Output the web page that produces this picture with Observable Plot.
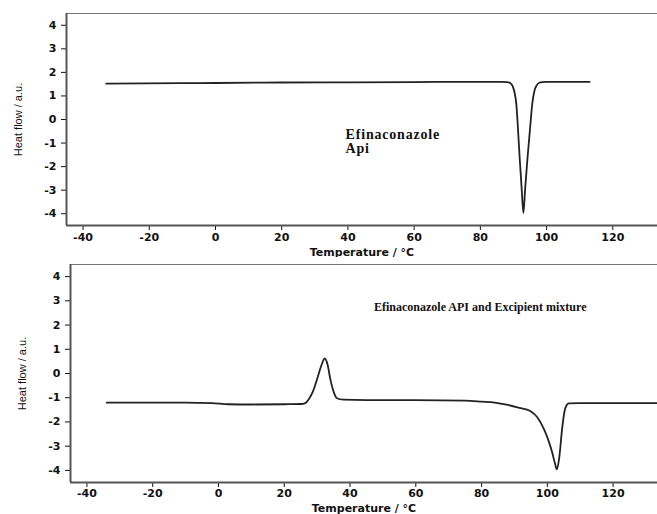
<!DOCTYPE html>
<html>
<head>
<meta charset="utf-8">
<script src="https://cdn.jsdelivr.net/npm/d3@7"></script>
<script src="https://cdn.jsdelivr.net/npm/@observablehq/plot@0.6"></script>
<style>
  html, body { margin: 0; padding: 0; background: #fff; }
  #charts svg { display: block; }
  g[aria-label="y-axis label"] text { font-family: "Liberation Sans Narrow", "Liberation Sans", sans-serif; font-weight: normal; font-size: 11px; fill: #111; }
  g[aria-label="x-axis label"] text { font-family: "DejaVu Sans", sans-serif; font-weight: bold; font-size: 11px; fill: #111; }
</style>
</head>
<body>
<div id="charts"></div>
<script>
// Axis setup
const xDomain = [-45, 133.5];
const yDomain = [-4.5, 4.5];
const xTicks = [-40, -20, 0, 20, 40, 60, 80, 100, 120];
const yTicks = [-4, -3, -2, -1, 0, 1, 2, 3, 4];
const xLabel = "Temperature / °C";
const yLabel = "Heat flow / a.u.";

// Top panel: Efinaconazole API
const apiTemp = [-33, -10, 0, 20, 40, 60, 80, 86, 88, 89, 89.8, 90.4, 90.9, 91.4, 91.9, 92.5, 93.0, 93.5, 94.2, 95.0, 95.7, 96.3, 97.0, 97.8, 98.8, 100, 113];
const apiFlow = [1.52, 1.54, 1.55, 1.57, 1.58, 1.59, 1.6, 1.6, 1.59, 1.55, 1.4, 1.1, 0.6, -0.5, -1.7, -3.0, -3.97, -3.0, -1.7, -0.4, 0.7, 1.2, 1.45, 1.56, 1.59, 1.6, 1.6];
const apiText = ["Efinaconazole\nApi"];

// Bottom panel: API and excipient mixture
const mixTemp = [-34, -20, -10, -2, 3, 10, 20, 25, 26.4, 27.5, 28.7, 30, 31.2, 32.3, 33.2, 34, 35, 36, 38, 45, 60, 75, 80, 84, 88, 91.5, 94.8, 97, 98.9, 100.3, 101.4, 102.3, 102.9, 103.6, 104.5, 105.2, 105.8, 106.5, 110, 133.5];
const mixFlow = [-1.2, -1.2, -1.2, -1.22, -1.27, -1.28, -1.27, -1.26, -1.22, -1.05, -0.75, -0.23, 0.3, 0.62, 0.35, -0.23, -0.75, -1.02, -1.08, -1.1, -1.1, -1.12, -1.16, -1.2, -1.3, -1.42, -1.55, -1.82, -2.28, -2.75, -3.22, -3.7, -3.96, -3.5, -2.28, -1.58, -1.32, -1.23, -1.22, -1.22];
const mixText = ["Efinaconazole API and Excipient mixture"];

const apiData = apiTemp.map((t, i) => ({t, v: apiFlow[i]}));
const mixData = mixTemp.map((t, i) => ({t, v: mixFlow[i]}));

function panel({data, height, marginTop, marginBottom, marginLeft, xTickPadding, xLabelOffset, note, noteX, noteY, noteAnchor, noteSize, noteLine}) {
  return Plot.plot({
    width: 657,
    height,
    marginTop,
    marginBottom,
    marginLeft,
    marginRight: 0,
    style: {fontFamily: "DejaVu Sans, sans-serif", fontWeight: "bold", fontSize: "11px", color: "#111", background: "#fff"},
    x: {domain: xDomain, ticks: xTicks, tickSize: 5, tickPadding: xTickPadding, tickFormat: d => String(d), label: xLabel, labelAnchor: "center", labelArrow: "none", labelOffset: xLabelOffset},
    y: {domain: yDomain, ticks: yTicks, tickSize: 5, tickPadding: 5, tickFormat: d => String(d), label: yLabel, labelAnchor: "center", labelArrow: "none", labelOffset: 52},
    marks: [
      Plot.ruleY(yDomain.slice(1), {stroke: "#777", strokeWidth: 1}),
      Plot.ruleY(yDomain.slice(0, 1), {stroke: "#555", strokeWidth: 2}),
      Plot.ruleX(xDomain.slice(0, 1), {stroke: "#555", strokeWidth: 2}),
      Plot.line(data, {x: "t", y: "v", stroke: "#222", strokeWidth: 1.8, curve: "monotone-x"}),
      Plot.text(note, {x: noteX, y: noteY, text: d => d, textAnchor: noteAnchor, lineAnchor: "top", lineHeight: noteLine,
        fontFamily: "Liberation Serif, serif", fontWeight: "bold", fontSize: noteSize, fill: "#111"})
    ]
  });
}

const topPanel = panel({data: apiData, height: 257, marginTop: 13, marginBottom: 32, marginLeft: 66, xTickPadding: 3, xLabelOffset: 30,
  note: apiText, noteX: [39.3], noteY: [-0.4], noteAnchor: "start", noteSize: 14, noteLine: 1});
const bottomPanel = panel({data: mixData, height: 263, marginTop: 7, marginBottom: 38, marginLeft: 70, xTickPadding: 2, xLabelOffset: 29,
  note: mixText, noteX: [79.6], noteY: [2.95], noteAnchor: "middle", noteSize: 12, noteLine: 1});

// letter spacing for the first annotation
topPanel.querySelectorAll('g[aria-label="text"] text').forEach(t => t.setAttribute("letter-spacing", "0.8"));

document.getElementById("charts").append(topPanel, bottomPanel);
</script>
</body>
</html>
